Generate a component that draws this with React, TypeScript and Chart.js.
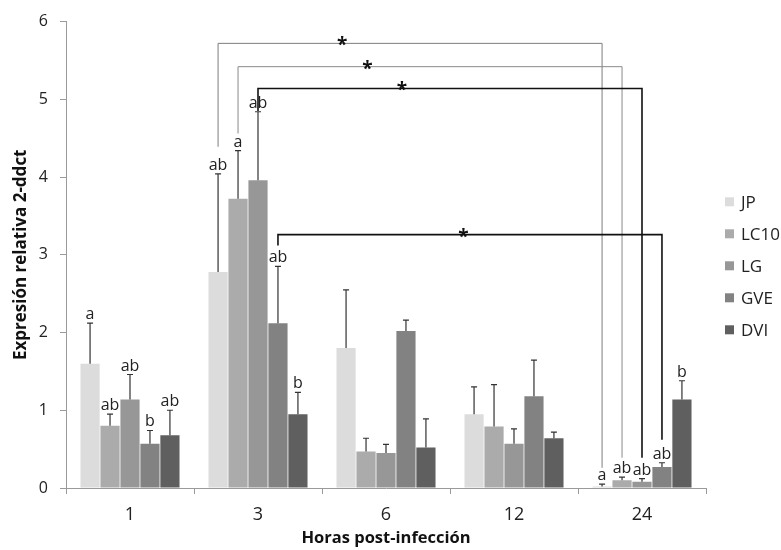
import React, { useEffect, useRef } from "react";
import { Chart, registerables } from "chart.js";

Chart.register(...registerables);

// Hours after infection (category axis)
const hours = ["1", "3", "6", "12", "24"];

// Relative expression (2^-ddCt) per line, one value per time point
const seriesNames = ["JP", "LC10", "LG", "GVE", "DVI"];
const jpValues = [1.6, 2.78, 1.8, 0.95, 0.02];
const lc10Values = [0.8, 3.72, 0.47, 0.79, 0.1];
const lgValues = [1.14, 3.96, 0.45, 0.57, 0.08];
const gveValues = [0.57, 2.12, 2.02, 1.18, 0.27];
const dviValues = [0.68, 0.95, 0.52, 0.64, 1.14];

// Upper end of each error bar (mean + SE)
const jpErrTop = [2.12, 4.04, 2.55, 1.3, 0.05];
const lc10ErrTop = [0.95, 4.34, 0.64, 1.33, 0.14];
const lgErrTop = [1.46, 4.84, 0.56, 0.76, 0.12];
const gveErrTop = [0.74, 2.85, 2.16, 1.645, 0.325];
const dviErrTop = [1.0, 1.23, 0.89, 0.72, 1.38];

// Significance letters above the bars
const jpLetters = ["a", "ab", "", "", "a"];
const lc10Letters = ["ab", "a", "", "", "ab"];
const lgLetters = ["ab", "ab", "", "", "ab"];
const gveLetters = ["b", "ab", "", "", "ab"];
const dviLetters = ["ab", "b", "", "", "b"];

// Brackets linking the same line at 3 h and 24 h
const bracketSeries = [0, 1, 2, 3];
const bracketFrom = [1, 1, 1, 1];
const bracketTo = [4, 4, 4, 4];
const bracketLevel = [5.72, 5.42, 5.14, 3.26];
const bracketLeftEnd = [4.39, 4.56, 4.85, 3.12];
const bracketRightEnd = [0.26, 0.39, 0.39, 0.62];
const bracketStarAt = [0.323, 0.337, 0.375, 0.483];

const barColors = ["#dcdcdc", "#ababab", "#979797", "#828282", "#5f5f5f"];
const bracketColors = ["#7c7c7c", "#8a8a8a", "#111111", "#111111"];
const bracketWidths = [1, 1, 1.6, 1.6];

const FONT = "'Open Sans', 'Noto Sans', sans-serif";

const allValues = [jpValues, lc10Values, lgValues, gveValues, dviValues];
const allErrTops = [jpErrTop, lc10ErrTop, lgErrTop, gveErrTop, dviErrTop];
const allLetters = [jpLetters, lc10Letters, lgLetters, gveLetters, dviLetters];

const annotations = {
  id: "annotations",
  afterDatasetsDraw(chart: any) {
    const ctx = chart.ctx;
    const yScale = chart.scales.y;
    ctx.save();
    // error bars and letters
    allErrTops.forEach((tops, di) => {
      const meta = chart.getDatasetMeta(di);
      meta.data.forEach((bar: any, i: number) => {
        const x = bar.x;
        const yTop = yScale.getPixelForValue(tops[i]);
        const yBar = bar.y;
        ctx.strokeStyle = "#333333";
        ctx.lineWidth = 1.2;
        ctx.beginPath();
        ctx.moveTo(x, yBar);
        ctx.lineTo(x, yTop);
        ctx.moveTo(x - 3, yTop);
        ctx.lineTo(x + 3, yTop);
        ctx.stroke();
        const letter = allLetters[di][i];
        if (letter) {
          ctx.fillStyle = "#222222";
          ctx.font = `16px ${FONT}`;
          ctx.textAlign = "center";
          ctx.textBaseline = "alphabetic";
          ctx.fillText(letter, x, yTop - 4);
        }
      });
    });
    // significance brackets
    bracketSeries.forEach((di, k) => {
      const meta = chart.getDatasetMeta(di);
      const x1 = meta.data[bracketFrom[k]].x;
      const x2 = meta.data[bracketTo[k]].x;
      const yL = yScale.getPixelForValue(bracketLevel[k]);
      const y1 = yScale.getPixelForValue(bracketLeftEnd[k]);
      const y2 = yScale.getPixelForValue(bracketRightEnd[k]);
      ctx.strokeStyle = bracketColors[k];
      ctx.lineWidth = bracketWidths[k];
      ctx.beginPath();
      ctx.moveTo(x1, y1);
      ctx.lineTo(x1, yL);
      ctx.lineTo(x2, yL);
      ctx.lineTo(x2, y2);
      ctx.stroke();
      ctx.fillStyle = "#111111";
      ctx.font = `bold 19px ${FONT}`;
      ctx.textAlign = "center";
      ctx.textBaseline = "alphabetic";
      ctx.fillText("*", x1 + (x2 - x1) * bracketStarAt[k], yL + 8);
    });
    ctx.restore();
  },
  afterDraw(chart: any) {
    // legend to the right of the plot area
    const ctx = chart.ctx;
    const area = chart.chartArea;
    const step = 32;
    const n = chart.data.datasets.length;
    const mid = (area.top + area.bottom) / 2 + 11;
    const x0 = area.right + 19;
    ctx.save();
    ctx.font = `17px ${FONT}`;
    ctx.textBaseline = "middle";
    ctx.textAlign = "left";
    chart.data.datasets.forEach((ds: any, i: number) => {
      const yc = mid + (i - (n - 1) / 2) * step;
      ctx.fillStyle = ds.backgroundColor;
      ctx.fillRect(x0, yc - 4.5, 9, 9);
      ctx.fillStyle = "#222222";
      ctx.fillText(ds.label, x0 + 16, yc + 1);
    });
    ctx.restore();
  },
};

export default function App() {
  const canvasRef = useRef<HTMLCanvasElement | null>(null);

  useEffect(() => {
    if (!canvasRef.current) return;
    const chart = new Chart(canvasRef.current, {
      type: "bar",
      data: {
        labels: hours,
        datasets: seriesNames.map((name, i) => ({
          label: name,
          data: allValues[i],
          backgroundColor: barColors[i],
          borderWidth: 0,
          barPercentage: 0.96,
          categoryPercentage: 0.78,
        })),
      },
      options: {
        responsive: false,
        animation: false,
        layout: { padding: { top: 14, right: 75, bottom: 2, left: 11 } },
        plugins: {
          legend: { display: false },
          tooltip: { enabled: false },
        },
        scales: {
          x: {
            afterFit(scale: any) {
              scale.height = 60;
            },
            grid: {
              offset: true,
              drawOnChartArea: false,
              tickLength: 6,
              color: "#9a9a9a",
            },
            border: { color: "#9a9a9a" },
            ticks: { font: { family: FONT, size: 18 }, color: "#222222", padding: 10 },
            title: {
              display: true,
              text: "Horas post-infección",
              font: { family: FONT, size: 16.5, weight: "bold" },
              color: "#111111",
              padding: { top: 3, bottom: 0 },
            },
          },
          y: {
            min: 0,
            max: 6,
            afterFit(scale: any) {
              scale.width = 55;
            },
            ticks: {
              stepSize: 1,
              font: { family: FONT, size: 16 },
              color: "#222222",
              padding: 12,
            },
            grid: { drawOnChartArea: false, tickLength: 6, color: "#9a9a9a" },
            border: { color: "#9a9a9a" },
            title: {
              display: true,
              text: "Expresión relativa 2-ddct",
              font: { family: FONT, size: 17, weight: "bold" },
              color: "#111111",
              padding: { top: 0, bottom: 9 },
            },
          },
        },
      },
      plugins: [annotations],
    });
    return () => chart.destroy();
  }, []);

  return (
    <div style={{ position: "absolute", left: 0, top: 0, width: 781, height: 550, background: "#ffffff" }}>
      <canvas ref={canvasRef} width={781} height={550} style={{ display: "block" }} />
    </div>
  );
}
